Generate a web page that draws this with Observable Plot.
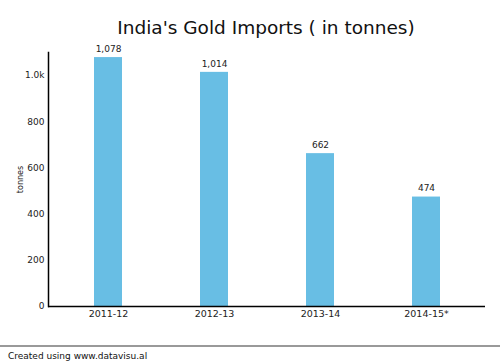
<!DOCTYPE html>
<html><head><meta charset="utf-8">
<script src="https://cdn.jsdelivr.net/npm/d3@7"></script>
<script src="https://cdn.jsdelivr.net/npm/@observablehq/plot@0.6"></script>
<style>
body{margin:0;background:#fff;font-family:"DejaVu Sans",sans-serif;width:500px;height:363px;overflow:hidden}
#title{height:36px;text-align:center;font-size:18.5px;line-height:20px;padding-top:18px;box-sizing:border-box;color:#111;padding-left:32px}
#footer{border-top:2px solid #999;margin-top:19px;font-size:9px;padding:4px 0 0 8px;color:#111}
svg{display:block}
</style></head>
<body>
<div id="title">India's Gold Imports ( in tonnes)</div>
<div id="chart"></div>
<div id="footer">Created using www.datavisu.al</div>
<script>
const years = ["2011-12", "2012-13", "2013-14", "2014-15*"];
const imports = [1078, 1014, 662, 474];
const yTicks = [0, 200, 400, 600, 800, 1000];
const data = years.map((y, i) => ({year: y, value: imports[i]}));
const chart = Plot.plot({
  width: 500, height: 290,
  marginTop: 16, marginBottom: 20, marginLeft: 48, marginRight: 15,
  style: {fontFamily: "DejaVu Sans, sans-serif", fontSize: "9px", color: "#222"},
  x: {domain: years, paddingInner: 0.74, paddingOuter: 0.425, label: null},
  y: {domain: [0, 1100], label: null},
  marks: [
    Plot.barY(data, {x: "year", y: "value", fill: "#68bee4"}),
    Plot.text(data, {x: "year", y: "value", text: d => d3.format(",")(d.value), dy: -8.5, fontSize: 9, fill: "#222"}),
    Plot.axisY({ticks: yTicks, tickSize: 0, tickPadding: 4, tickFormat: d => d === 1000 ? "1.0k" : String(d), fontSize: 9, label: null}),
    Plot.axisY({ticks: [], label: "tonnes", labelAnchor: "center", labelArrow: "none", labelOffset: 31, fontSize: 8}),
    Plot.axisX({tickSize: 0, tickPadding: 4, fontSize: 9.5}),
    Plot.frame({anchor: "left", stroke: "#000", strokeWidth: 1.5}),
    Plot.ruleY([0], {stroke: "#000", strokeWidth: 1.5})
  ]
});
document.getElementById("chart").appendChild(chart);
</script>
</body></html>
